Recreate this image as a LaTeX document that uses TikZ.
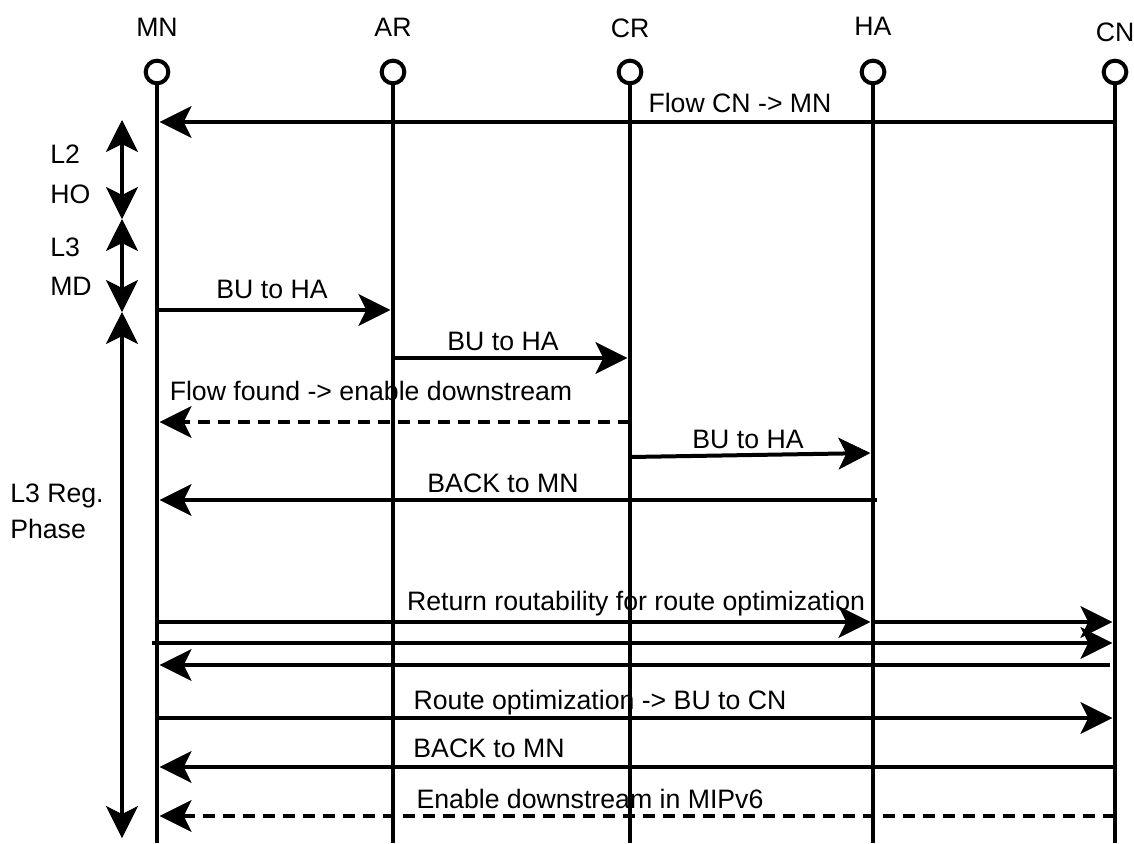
\documentclass[tikz,border=0pt]{standalone}
\usepackage{fontspec}
\setmainfont{Liberation Sans}
\usetikzlibrary{arrows.meta}

\begin{document}
\begin{tikzpicture}[
  >={Stealth[length=24pt,width=24pt,inset=6pt,line width=0.5pt]},
  x=0.75pt,y=-0.75pt,
  font=\fontsize{20}{24}\selectfont,
  head/.style={circle, draw, fill=white, minimum size=17pt, inner sep=0pt, line width=3pt},
  actor/.style={anchor=base, inner sep=0pt},
  life/.style={line width=3pt},
  msg/.style={->, line width=3pt, shorten >=2pt},
  dmsg/.style={msg, dash pattern=on 9pt off 6pt},
  span/.style={<->, line width=3pt},
  mlabel/.style={anchor=base, inner sep=0pt},
  side/.style={anchor=base west, inner sep=0pt},
]
\useasboundingbox (0,0) rectangle (1134,843);

% ---------------- lifelines ----------------
\coordinate (bot) at (0,843);
\foreach \n/\x/\t/\ty in {mn/157/MN/36, ar/393/AR/36, cr/630/CR/37, ha/873/HA/35, cn/1115/CN/41} {
  \node[actor] (\n-lab) at (\x,\ty) {\t};
  \node[head] (\n) at (\x,72) {};
  \draw[life] (\n.south) -- (\n |- bot);
}

% message levels
\coordinate (flow)   at (0,122);
\coordinate (bu1)    at (0,310);
\coordinate (bu2)    at (0,358);
\coordinate (found)  at (0,422);
\coordinate (bu3a)   at (0,457);
\coordinate (bu3b)   at (0,453);
\coordinate (back1)  at (0,500);
\coordinate (rr)     at (0,622);
\coordinate (rr2)    at (0,643);
\coordinate (rr3)    at (0,665);
\coordinate (ro)     at (0,718);
\coordinate (back2)  at (0,767);
\coordinate (enable) at (0,816);

% ---------------- phases (left) ----------------
\coordinate (s0) at (122,120);
\coordinate (s1) at (122,219);
\coordinate (s2) at (122,312);
\coordinate (s3) at (122,838);
\draw[span] (s0) -- (s1);
\draw[span] (s1) -- (s2);
\draw[span] (s2) -- (s3);

\node[side] (l2)  at (50,163) {L2};
\node[side] (ho)  at (50,203) {HO};
\node[side] (l3)  at (50,256) {L3};
\node[side] (md)  at (50,295) {MD};
\node[side] (reg) at (10,502) {L3 Reg.};
\node[side] (ph)  at (10,538) {Phase};

% ---------------- messages ----------------
\draw[msg] (cn |- flow) -- (mn |- flow);
\node[mlabel] (t-flow) at (740,112) {Flow CN -> MN};

\draw[msg] (mn |- bu1) -- (ar |- bu1);
\node[mlabel] (t-bu1) at (272,298) {BU to HA};

\draw[msg] (ar |- bu2) -- (cr |- bu2);
\node[mlabel] (t-bu2) at (503,350) {BU to HA};

\draw[dmsg] (cr |- found) -- (mn |- found);
\node[mlabel] (t-found) at (371,400) {Flow found -> enable downstream};

\draw[msg] (cr |- bu3a) -- (ha |- bu3b);
\node[mlabel] (t-bu3) at (748,448) {BU to HA};

\draw[msg, shorten <=-3pt] (ha |- back1) -- (mn |- back1);
\node[mlabel] (t-back1) at (503,492) {BACK to MN};

% return routability
\draw[msg] (mn |- rr) -- (ha |- rr);
\draw[msg] (ha |- rr) -- (cn |- rr);
\node[mlabel] (t-rr) at (636,610) {Return routability for route optimization};
\draw[msg, shorten <=-4pt] (mn |- rr2) -- (cn |- rr2);
\draw[msg, shorten <=4pt] (cn |- rr3) -- (mn |- rr3);

% route optimization
\draw[msg] (mn |- ro) -- (cn |- ro);
\node[mlabel] (t-ro) at (600,709) {Route optimization -> BU to CN};

\draw[msg] (cn |- back2) -- (mn |- back2);
\node[mlabel] (t-back2) at (489,757) {BACK to MN};

\draw[dmsg] (cn |- enable) -- (mn |- enable);
\node[mlabel] (t-enable) at (590,808) {Enable downstream in MIPv6};

\end{tikzpicture}
\end{document}
